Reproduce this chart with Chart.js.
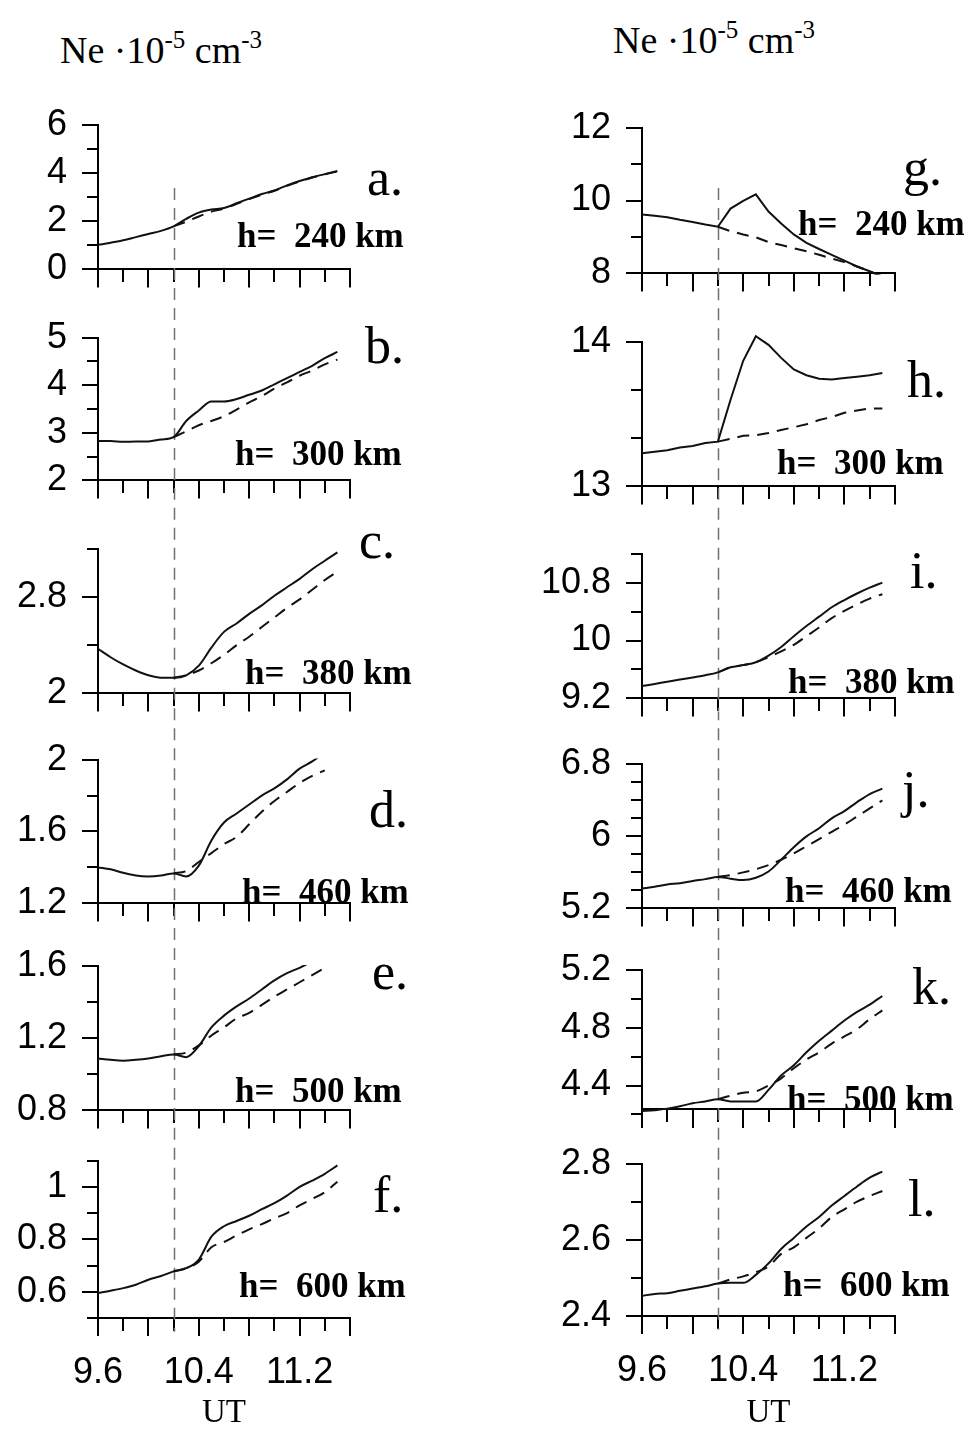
<!DOCTYPE html>
<html>
<head>
<meta charset="utf-8">
<script src="https://cdn.jsdelivr.net/npm/chart.js@4.4.1/dist/chart.umd.min.js"></script>
<style>
  body { margin: 0; background: #fff; }
  #page { position: relative; width: 973px; height: 1430px; overflow: hidden; background: #fff; }
  .panel { position: absolute; }
  .head { position: absolute; font-family: 'Liberation Serif', 'Times New Roman', serif; font-size: 38px; line-height: 38px; color: #000; white-space: nowrap; }
  .head sup { font-size: 25px; line-height: 0; vertical-align: 15px; }
</style>
</head>
<body>
<div id="page">
  <div class="head" style="left:60px; top:31px;">Ne &middot;10<sup>-5</sup> cm<sup>-3</sup></div>
  <div class="head" style="left:613px; top:21px;">Ne &middot;10<sup>-5</sup> cm<sup>-3</sup></div>
</div>
<script>
// UT axis (hours)
const utTimes = [9.6, 9.7, 9.8, 9.9, 10.0, 10.1, 10.2, 10.3, 10.4, 10.5, 10.6, 10.7, 10.8, 10.9, 11.0, 11.1, 11.2, 11.3, 11.4, 11.5];
const utTicks = [9.6, 9.8, 10.0, 10.2, 10.4, 10.6, 10.8, 11.0, 11.2, 11.4, 11.6];
const utLabels = [9.6, 10.4, 11.2];
const onsetUT = 10.2; // dashed vertical marker

// Ne * 10^-5 cm^-3 : solid = disturbed, dashed = background (starts at onset)
const neA = [1.02, 1.11, 1.21, 1.34, 1.47, 1.60, 1.79, 2.10, 2.36, 2.49, 2.55, 2.75, 2.94, 3.13, 3.28, 3.49, 3.67, 3.83, 3.96, 4.09];
const neADash = [null, null, null, null, null, null, 1.79, 1.98, 2.20, 2.40, 2.53, 2.72, 2.92, 3.10, 3.27, 3.47, 3.65, 3.82, 3.95, 4.07];
const neB = [2.83, 2.83, 2.81, 2.82, 2.82, 2.86, 2.91, 3.25, 3.47, 3.66, 3.66, 3.71, 3.80, 3.89, 4.02, 4.15, 4.28, 4.41, 4.57, 4.70];
const neBDash = [null, null, null, null, null, null, 2.91, 3.03, 3.16, 3.25, 3.35, 3.49, 3.64, 3.77, 3.93, 4.06, 4.20, 4.31, 4.44, 4.54];
const neC = [2.37, 2.30, 2.24, 2.19, 2.15, 2.13, 2.13, 2.15, 2.23, 2.38, 2.51, 2.58, 2.66, 2.73, 2.81, 2.88, 2.95, 3.03, 3.10, 3.17];
const neCDash = [null, null, null, null, null, null, 2.13, 2.15, 2.19, 2.25, 2.32, 2.40, 2.47, 2.55, 2.63, 2.71, 2.78, 2.86, 2.94, 3.01];
const neD = [1.40, 1.39, 1.37, 1.355, 1.35, 1.355, 1.367, 1.35, 1.41, 1.55, 1.65, 1.70, 1.75, 1.80, 1.84, 1.89, 1.95, 1.99, 2.04, null];
const neDDash = [null, null, null, null, null, null, 1.367, 1.38, 1.43, 1.48, 1.53, 1.57, 1.64, 1.71, 1.77, 1.82, 1.87, 1.91, 1.94, null];
const neE = [1.088, 1.08, 1.075, 1.08, 1.088, 1.10, 1.11, 1.095, 1.156, 1.26, 1.325, 1.376, 1.42, 1.47, 1.52, 1.56, 1.59, 1.625, null, null];
const neEDash = [null, null, null, null, null, null, 1.11, 1.12, 1.16, 1.215, 1.26, 1.31, 1.34, 1.385, 1.43, 1.47, 1.51, 1.55, 1.59, null];
const neF = [0.595, 0.604, 0.614, 0.627, 0.646, 0.66, 0.678, 0.69, 0.723, 0.81, 0.85, 0.87, 0.89, 0.915, 0.938, 0.967, 1.0, 1.024, 1.05, 1.082];
const neFDash = [null, null, null, null, null, null, 0.678, 0.69, 0.715, 0.77, 0.79, 0.815, 0.838, 0.858, 0.88, 0.90, 0.93, 0.954, 0.98, 1.02];
const neG = [9.62, 9.58, 9.54, 9.47, 9.41, 9.34, 9.28, 9.78, 9.99, 10.17, 9.70, 9.37, 9.07, 8.84, 8.67, 8.51, 8.35, 8.19, 8.06, 7.92];
const neGDash = [null, null, null, null, null, null, 9.28, 9.16, 9.07, 8.99, 8.86, 8.78, 8.69, 8.61, 8.51, 8.41, 8.31, 8.19, 8.06, 7.89];
const neH = [13.23, 13.24, 13.25, 13.27, 13.28, 13.30, 13.31, 13.60, 13.87, 14.04, 13.98, 13.89, 13.81, 13.77, 13.745, 13.74, 13.75, 13.76, 13.77, 13.785];
const neHDash = [null, null, null, null, null, null, 13.31, 13.33, 13.35, 13.355, 13.37, 13.39, 13.41, 13.43, 13.46, 13.48, 13.51, 13.525, 13.54, 13.54];
const neI = [9.37, 9.40, 9.43, 9.46, 9.49, 9.52, 9.56, 9.63, 9.66, 9.70, 9.79, 9.91, 10.06, 10.20, 10.33, 10.46, 10.56, 10.65, 10.73, 10.80];
const neIDash = [null, null, null, null, null, null, 9.56, 9.63, 9.66, 9.70, 9.77, 9.85, 9.94, 10.06, 10.18, 10.31, 10.41, 10.50, 10.58, 10.64];
const neJ = [5.42, 5.44, 5.465, 5.48, 5.505, 5.525, 5.55, 5.53, 5.515, 5.54, 5.61, 5.74, 5.88, 6.00, 6.09, 6.20, 6.28, 6.38, 6.47, 6.53];
const neJDash = [null, null, null, null, null, null, 5.55, 5.57, 5.60, 5.635, 5.68, 5.74, 5.81, 5.89, 5.97, 6.05, 6.13, 6.22, 6.31, 6.40];
const neK = [4.224, 4.228, 4.24, 4.256, 4.277, 4.29, 4.305, 4.29, 4.29, 4.29, 4.37, 4.47, 4.54, 4.63, 4.71, 4.78, 4.85, 4.91, 4.96, 5.02];
const neKDash = [null, null, null, null, null, null, 4.305, 4.33, 4.35, 4.36, 4.40, 4.45, 4.52, 4.58, 4.63, 4.69, 4.74, 4.79, 4.86, 4.92];
const neL = [2.453, 2.458, 2.46, 2.466, 2.472, 2.478, 2.485, 2.487, 2.487, 2.508, 2.538, 2.576, 2.605, 2.635, 2.66, 2.69, 2.715, 2.74, 2.763, 2.779];
const neLDash = [null, null, null, null, null, null, 2.485, 2.496, 2.504, 2.515, 2.53, 2.563, 2.58, 2.605, 2.63, 2.66, 2.68, 2.70, 2.715, 2.728];

// y ticks and which of them carry a label
const yTicksA = [0, 1, 2, 3, 4, 5, 6], yLabelsA = [0, 2, 4, 6];
const yTicksB = [2, 2.5, 3, 3.5, 4, 4.5, 5], yLabelsB = [2, 3, 4, 5];
const yTicksC = [2, 2.4, 2.8, 3.2], yLabelsC = [2, 2.8];
const yTicksD = [1.2, 1.4, 1.6, 1.8, 2], yLabelsD = [1.2, 1.6, 2];
const yTicksE = [0.8, 1, 1.2, 1.4, 1.6], yLabelsE = [0.8, 1.2, 1.6];
const yTicksF = [0.5, 0.6, 0.7, 0.8, 0.9, 1, 1.1], yLabelsF = [0.6, 0.8, 1];
const yTicksG = [8, 9, 10, 11, 12], yLabelsG = [8, 10, 12];
const yTicksH = [13, 13 + 1 / 3, 13 + 2 / 3, 14], yLabelsH = [13, 14];
const yTicksI = [9.2, 9.6, 10, 10.4, 10.8, 11.2], yLabelsI = [9.2, 10, 10.8];
const yTicksJ = [5.2, 5.4, 5.6, 5.8, 6, 6.2, 6.4, 6.6, 6.8], yLabelsJ = [5.2, 6, 6.8];
const yTicksK = [4.2, 4.4, 4.6, 4.8, 5, 5.2], yLabelsK = [4.4, 4.8, 5.2];
const yTicksL = [2.4, 2.5, 2.6, 2.7, 2.8], yLabelsL = [2.4, 2.6, 2.8];

const panelLetters = ['a.', 'b.', 'c.', 'd.', 'e.', 'f.', 'g.', 'h.', 'i.', 'j.', 'k.', 'l.'];
const heightLabels = ['h=  240 km', 'h=  300 km', 'h=  380 km', 'h=  460 km', 'h=  500 km', 'h=  600 km',
                      'h=  240 km', 'h=  300 km', 'h=  380 km', 'h=  460 km', 'h=  500 km', 'h=  600 km'];

// Panel layout (page pixels): plot top/bottom, letter and altitude label anchors
const columns = [
    { left: 0, width: 490, axisX: 98, endX: 350 },
    { left: 490, width: 483, axisX: 642, endX: 895 }
];
const panels = [
    { col: 0, solid: neA, dash: neADash, ticks: yTicksA, labels: yLabelsA, top: 125, bottom: 282, letter: [367, 195], alt: [237, 247] },
    { col: 0, solid: neB, dash: neBDash, ticks: yTicksB, labels: yLabelsB, top: 337.7, bottom: 493.3, letter: [365, 363], alt: [235, 465] },
    { col: 0, solid: neC, dash: neCDash, ticks: yTicksC, labels: yLabelsC, top: 549, bottom: 706.7, letter: [359, 558], alt: [245, 684] },
    { col: 0, solid: neD, dash: neDDash, ticks: yTicksD, labels: yLabelsD, top: 759.3, bottom: 916, letter: [369, 827], alt: [242, 903] },
    { col: 0, solid: neE, dash: neEDash, ticks: yTicksE, labels: yLabelsE, top: 966, bottom: 1123.3, letter: [372, 989], alt: [235, 1102] },
    { col: 0, solid: neF, dash: neFDash, ticks: yTicksF, labels: yLabelsF, top: 1161, bottom: 1318, letter: [373, 1212], alt: [239, 1297] },
    { col: 1, solid: neG, dash: neGDash, ticks: yTicksG, labels: yLabelsG, top: 127.7, bottom: 285.7, letter: [903, 185], alt: [798, 235], sharp: true },
    { col: 1, solid: neH, dash: neHDash, ticks: yTicksH, labels: yLabelsH, top: 341.7, bottom: 498.3, letter: [907, 397], alt: [777, 474], overTop: 12, sharp: true },
    { col: 1, solid: neI, dash: neIDash, ticks: yTicksI, labels: yLabelsI, top: 554, bottom: 711.7, letter: [910, 588], alt: [788, 693] },
    { col: 1, solid: neJ, dash: neJDash, ticks: yTicksJ, labels: yLabelsJ, top: 764, bottom: 921, letter: [902, 807], alt: [785, 902] },
    { col: 1, solid: neK, dash: neKDash, ticks: yTicksK, labels: yLabelsK, top: 970, bottom: 1127.2, xAxisAt: 4.24, letter: [912, 1004], alt: [787, 1110] },
    { col: 1, solid: neL, dash: neLDash, ticks: yTicksL, labels: yLabelsL, top: 1158.3, bottom: 1316, letter: [908, 1216], alt: [783, 1296] }
];

const FIRST_TOP = 80;      // canvas top of the first row
const DASH_START = 188;    // where the onset marker begins
const PAGE_H = 1430;
const X_TICK = 18, X_MINOR = 12;   // x tick lengths
const Y_TICK = 16, Y_MINOR = 11;   // y tick lengths

Chart.defaults.font.family = "'Liberation Sans', Arial, sans-serif";
Chart.defaults.color = '#000';

const near = (list, v) => list.some(l => Math.abs(l - v) < 1e-6);
const fmt = v => String(Math.round(v * 100) / 100);

// draws the onset marker and the panel texts
const decorPlugin = {
    id: 'decor',
    beforeDatasetsDraw(chart, args, opts) {
        const ctx = chart.ctx;
        const x = Math.round(chart.scales.x.getPixelForValue(onsetUT)) + 0.5;
        ctx.save();
        ctx.strokeStyle = '#707070';
        ctx.lineWidth = 1.5;
        ctx.setLineDash([12, 8]);
        ctx.lineDashOffset = opts.dashOffset;
        ctx.beginPath();
        ctx.moveTo(x, opts.dashFrom);
        ctx.lineTo(x, opts.dashTo);
        ctx.stroke();
        ctx.restore();
    },
    afterDraw(chart, args, opts) {
        const ctx = chart.ctx;
        ctx.save();
        ctx.fillStyle = '#000';
        ctx.textBaseline = 'alphabetic';
        ctx.textAlign = 'left';
        ctx.font = "52px 'Liberation Serif', 'Times New Roman', serif";
        ctx.fillText(opts.letter, opts.letterX, opts.letterY);
        ctx.font = "bold 35px 'Liberation Serif', 'Times New Roman', serif";
        ctx.fillText(opts.alt, opts.altX, opts.altY);
        ctx.restore();
    }
};

const page = document.getElementById('page');

panels.forEach((p, i) => {
    const col = columns[p.col];
    const colPanels = panels.filter(q => q.col === p.col);
    const idx = colPanels.indexOf(p);
    const isFirst = idx === 0;
    const isLast = idx === colPanels.length - 1;
    const canvasTop = isFirst ? FIRST_TOP : colPanels[idx - 1].bottom;
    const axisH = isLast ? PAGE_H - p.bottom : 24;
    const canvasH = Math.round(p.bottom + axisH - canvasTop);

    const div = document.createElement('div');
    div.className = 'panel';
    div.style.left = col.left + 'px';
    div.style.top = canvasTop + 'px';
    const canvas = document.createElement('canvas');
    canvas.width = col.width;
    canvas.height = canvasH;
    canvas.style.width = col.width + 'px';
    canvas.style.height = canvasH + 'px';
    div.appendChild(canvas);
    page.appendChild(div);

    const dashFrom = (isFirst ? DASH_START : canvasTop);
    const dashTo = isLast ? p.bottom + 14 : p.bottom;
    const clip = { left: 1, right: 1, bottom: 1, top: p.overTop || 1 };
    // sharp peaks (g, h) use straight segments, the rest a monotone curve
    const curve = p.sharp ? { tension: 0 } : { cubicInterpolationMode: 'monotone' };

    new Chart(canvas, {
        type: 'line',
        data: {
            datasets: [
                Object.assign({
                    data: utTimes.map((t, k) => ({ x: t, y: p.solid[k] })),
                    borderColor: '#111', borderWidth: 2, pointRadius: 0, clip: clip, spanGaps: false
                }, curve),
                Object.assign({
                    data: utTimes.map((t, k) => ({ x: t, y: p.dash[k] })),
                    borderColor: '#111', borderWidth: 2, borderDash: [12, 8], pointRadius: 0, clip: clip, spanGaps: false
                }, curve)
            ]
        },
        options: {
            responsive: false,
            devicePixelRatio: 1,
            animation: false,
            events: [],
            layout: {
                padding: { top: p.top - canvasTop, bottom: 0, left: 0, right: col.width - (col.endX - col.left) }
            },
            plugins: {
                legend: { display: false },
                tooltip: { enabled: false },
                decor: {
                    dashFrom: dashFrom - canvasTop,
                    dashTo: dashTo - canvasTop,
                    dashOffset: dashFrom - DASH_START,
                    letter: panelLetters[i],
                    letterX: p.letter[0] - col.left,
                    letterY: p.letter[1] - canvasTop,
                    alt: heightLabels[i],
                    altX: p.alt[0] - col.left,
                    altY: p.alt[1] - canvasTop
                }
            },
            scales: {
                x: {
                    type: 'linear',
                    min: 9.6,
                    max: 11.6,
                    position: p.xAxisAt !== undefined ? { y: p.xAxisAt } : 'bottom',
                    afterBuildTicks: s => { s.ticks = utTicks.map(v => ({ value: v })); },
                    afterFit: s => { s.height = axisH; },
                    ticks: {
                        autoSkip: false, maxRotation: 0, minRotation: 0, padding: 15,
                        font: { size: 36 },
                        callback: v => (isLast && near(utLabels, v)) ? v.toFixed(1) : ''
                    },
                    grid: {
                        drawOnChartArea: false, tickLength: X_TICK, color: '#000', lineWidth: 2,
                        // every other tick is a short one
                        tickBorderDash: c => (c.index % 2 === 1 ? [X_MINOR, 40] : [])
                    },
                    border: { color: '#000', width: 2 },
                    title: {
                        display: isLast, text: 'UT', color: '#000',
                        font: { family: "'Liberation Serif', 'Times New Roman', serif", size: 33, lineHeight: 1 },
                        padding: { top: 0, bottom: 0 }
                    }
                },
                y: {
                    type: 'linear',
                    min: p.ticks[0],
                    max: p.ticks[p.ticks.length - 1],
                    afterBuildTicks: s => { s.ticks = p.ticks.map(v => ({ value: v })); },
                    afterFit: s => { s.width = col.axisX - col.left; },
                    ticks: {
                        autoSkip: false, padding: 15,
                        font: { size: 36 },
                        callback: v => near(p.labels, v) ? fmt(v) : ''
                    },
                    grid: {
                        drawOnChartArea: false, tickLength: Y_TICK, color: '#000', lineWidth: 2,
                        // unlabelled ticks are shorter (drawn from the outer end towards the axis)
                        tickBorderDash: c => (c.tick && near(p.labels, c.tick.value) ? [] : [0, Y_TICK - Y_MINOR, Y_MINOR, 40])
                    },
                    border: { color: '#000', width: 2 }
                }
            }
        },
        plugins: [decorPlugin]
    });
});
</script>
</body>
</html>
